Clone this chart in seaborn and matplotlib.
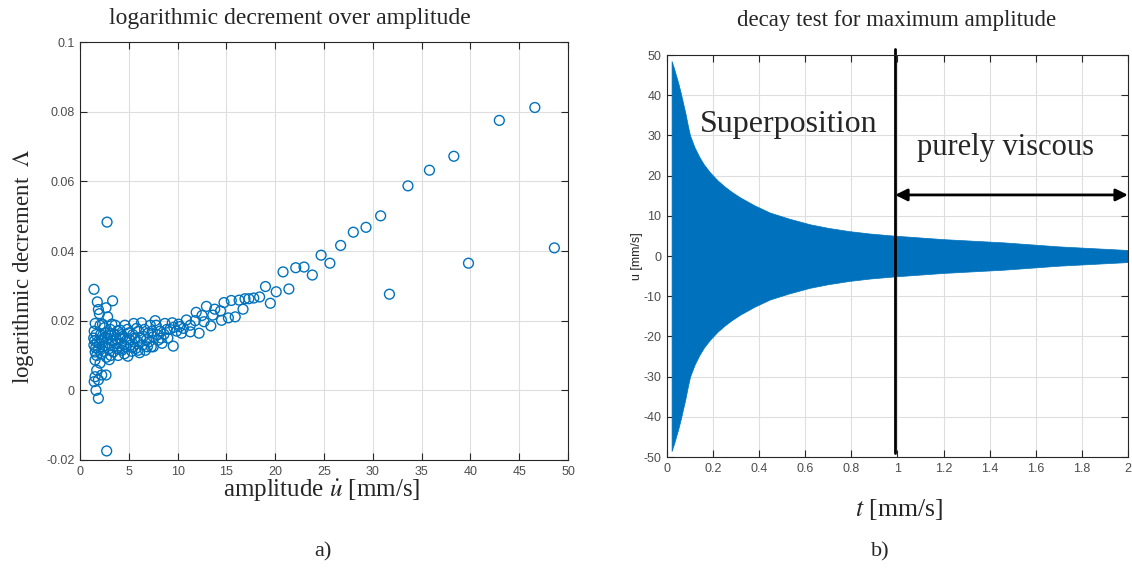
import matplotlib
matplotlib.use("Agg")
import matplotlib.pyplot as plt
import seaborn as sns
import pandas as pd

# Panel a) logarithmic decrement over amplitude (read off the picture)
amp = [1.43, 1.77, 1.88, 1.98, 1.55, 2.05, 1.45, 1.65, 1.40, 1.50, 1.75, 1.42, 1.60, 1.90, 1.55,
       1.70, 1.54, 2.05, 1.71, 1.54, 2.22, 1.88, 1.45, 1.64, 1.88, 2.10, 2.20, 2.00, 2.30, 2.15,
       2.73, 2.77, 3.34, 2.66, 2.83, 2.66, 2.50, 2.60, 2.80, 2.90, 2.55, 3.00, 3.10, 3.20, 3.30,
       3.40, 2.70, 3.00, 3.50, 3.60, 3.70, 3.80, 3.90, 4.10, 4.20, 4.30, 4.40, 4.60, 4.70, 4.80,
       4.90, 5.00, 5.20, 5.30, 5.50, 5.60, 5.70, 5.90, 6.00, 6.10, 6.30, 6.40, 6.50, 6.70, 6.80,
       7.00, 7.20, 7.30, 7.50, 7.50, 7.70, 7.80, 8.00, 8.20, 8.40, 8.60, 8.70, 9.00, 9.20, 9.45,
       9.55, 9.60, 10.1, 10.4, 10.6, 10.9, 11.3, 11.3, 11.8, 11.9, 12.2, 12.5, 12.7, 12.95, 13.4,
       13.6, 13.8, 14.4, 14.5, 14.75, 15.2, 15.5, 15.9, 16.3, 16.7, 16.9, 17.3, 17.8, 18.4, 19.0,
       19.5, 20.1, 20.8, 21.4, 22.1, 22.95, 23.8, 24.7, 25.6, 26.7, 28.0, 29.3, 30.8, 31.7, 33.6,
       35.8, 38.3, 39.8, 42.96, 46.6, 48.6,
       2.30, 2.40, 2.45, 2.90, 3.15, 3.25, 3.55, 3.65, 3.85, 4.00, 4.05, 4.25, 4.50, 4.55, 4.85,
       5.10, 5.40, 5.45, 5.80, 5.95, 6.20, 6.60, 6.90, 7.10, 7.40, 7.90, 8.30, 8.90, 9.90, 10.2]
dec = [0.0290, 0.0254, 0.0232, 0.0220, 0.0192, 0.0187, 0.0170, 0.0160, 0.0150, 0.0143, 0.0138,
       0.0130, 0.0122, 0.0118, 0.0110, 0.0100, 0.0087, 0.0078, 0.0058, 0.0039, 0.0044, 0.0030,
       0.0025, 0.0000, -0.0023, 0.0160, 0.0145, 0.0135, 0.0125, 0.0105,
       -0.0174, 0.0483, 0.0257, 0.0237, 0.0211, 0.0044, 0.0180, 0.0165, 0.0150, 0.0135, 0.0128,
       0.0120, 0.0175, 0.0158, 0.0142, 0.0110, 0.0095, 0.0088, 0.0128, 0.0187, 0.0148, 0.0120,
       0.0100, 0.0173, 0.0135, 0.0115, 0.0155, 0.0187, 0.0125, 0.0145, 0.0098, 0.0165, 0.0130,
       0.0112, 0.0192, 0.0150, 0.0120, 0.0140, 0.0170, 0.0108, 0.0194, 0.0130, 0.0155, 0.0115,
       0.0145, 0.0165, 0.0187, 0.0125, 0.0154, 0.0125, 0.0200, 0.0187, 0.0144, 0.0170, 0.0135,
       0.0161, 0.0192, 0.0150, 0.0175, 0.0194, 0.0127, 0.0181, 0.0190, 0.0164, 0.0178, 0.0202,
       0.0187, 0.0168, 0.0200, 0.0224, 0.0164, 0.0215, 0.0197, 0.0241, 0.0185, 0.0216, 0.0233,
       0.0228, 0.0201, 0.0252, 0.0208, 0.0258, 0.0211, 0.0259, 0.0233, 0.0263, 0.0263, 0.0265,
       0.0268, 0.0298, 0.0250, 0.0283, 0.0340, 0.0291, 0.0352, 0.0354, 0.0331, 0.0388, 0.0365,
       0.0416, 0.0454, 0.0468, 0.0501, 0.0276, 0.0587, 0.0632, 0.0672, 0.0365, 0.0775, 0.0812,
       0.0409,
       0.0190, 0.0112, 0.0150, 0.0160, 0.0100, 0.0190, 0.0160, 0.0135, 0.0170, 0.0118, 0.0150,
       0.0160, 0.0130, 0.0105, 0.0175, 0.0145, 0.0160, 0.0125, 0.0178, 0.0115, 0.0150, 0.0175,
       0.0125, 0.0140, 0.0170, 0.0160, 0.0150, 0.0175, 0.0170, 0.0183]

# Panel b) envelope of the decay signal
t_env = [0.02, 0.03, 0.04, 0.05, 0.06, 0.07, 0.08, 0.09, 0.10, 0.12, 0.14, 0.16, 0.187, 0.22,
         0.25, 0.28, 0.317, 0.38, 0.447, 0.53, 0.62, 0.70, 0.79, 0.88, 0.98, 1.20, 1.46, 1.70, 2.00]
u_env = [48.5, 46.8, 44.8, 42.8, 40.5, 38.0, 35.5, 32.6, 30.0, 27.0, 24.7, 22.8, 20.8, 18.8,
         17.3, 16.0, 14.6, 12.6, 10.8, 9.3, 7.9, 7.0, 6.2, 5.6, 5.1, 4.2, 3.4, 2.4, 1.5]

x_ticks_a = [0, 5, 10, 15, 20, 25, 30, 35, 40, 45, 50]
y_ticks_a = [-0.02, 0, 0.02, 0.04, 0.06, 0.08, 0.1]
y_labels_a = ["-0.02", "0", "0.02", "0.04", "0.06", "0.08", "0.1"]
x_ticks_b = [0, 0.2, 0.4, 0.6, 0.8, 1, 1.2, 1.4, 1.6, 1.8, 2]
x_labels_b = ["0", "0.2", "0.4", "0.6", "0.8", "1", "1.2", "1.4", "1.6", "1.8", "2"]
y_ticks_b = [-50, -40, -30, -20, -10, 0, 10, 20, 30, 40, 50]

blue = "#0072BD"
serif = "Liberation Serif"
tick_col = "#4d4d4d"

sns.set_theme(style="whitegrid")
plt.rcParams["font.family"] = ["Liberation Sans", "DejaVu Sans"]
plt.rcParams["mathtext.fontset"] = "stix"
plt.rcParams["axes.unicode_minus"] = False

fig = plt.figure(figsize=(11.32, 5.71), dpi=100)
ax1 = fig.add_axes([0.0707, 0.1944, 0.4311, 0.732])
ax2 = fig.add_axes([0.5892, 0.1996, 0.4072, 0.704])


def matlab_style(ax):
    ax.set_facecolor("white")
    ax.grid(True, color="#dedede", linewidth=0.8)
    for s in ax.spines.values():
        s.set_visible(True)
        s.set_color("#262626")
        s.set_linewidth(0.8)
    ax.tick_params(direction="in", length=5, width=0.8, color="#262626",
                   top=True, right=True, bottom=True, left=True,
                   labelsize=9, labelcolor=tick_col, pad=4)


# a)
df = pd.DataFrame({"amp": amp, "dec": dec})
sns.scatterplot(data=df, x="amp", y="dec", ax=ax1, marker="o", s=50,
                facecolors="none", edgecolor=blue, linewidth=1.0)
ax1.set_xlim(0, 50)
ax1.set_ylim(-0.02, 0.1)
ax1.set_xticks(x_ticks_a)
ax1.set_xticklabels([str(v) for v in x_ticks_a])
ax1.set_yticks(y_ticks_a)
ax1.set_yticklabels(y_labels_a)
matlab_style(ax1)
ax1.set_xlabel("")
ax1.set_ylabel("")

# b)
ax2.fill_between(t_env, [-v for v in u_env], u_env, color=blue, linewidth=0.5, edgecolor=blue)
ax2.set_xlim(0, 2)
ax2.set_ylim(-50, 50)
ax2.set_xticks(x_ticks_b)
ax2.set_xticklabels(x_labels_b)
ax2.set_yticks(y_ticks_b)
matlab_style(ax2)
ax2.set_ylabel("u [mm/s]", fontsize=9, color="#262626", labelpad=0)

ax2.plot([0.99, 0.99], [-49, 51.5], color="black", linewidth=2, clip_on=False)
ax2.annotate("", xy=(2.0, 15.2), xytext=(0.99, 15.2),
             arrowprops=dict(arrowstyle="<|-|>", color="black", lw=2, mutation_scale=18,
                             shrinkA=0, shrinkB=0))
ax2.text(0.53, 32.8, "Superposition", family=serif, fontsize=23, ha="center", va="center")
ax2.text(1.47, 26.9, "purely viscous", family=serif, fontsize=22, ha="center", va="center")


def ftext(x, y, s, va="baseline", **kw):
    fig.text(x / 1132, 1 - y / 571, s, family=serif, ha="center", va=va, **kw)


ftext(290, 24, "logarithmic decrement over amplitude", fontsize=17)
ftext(897, 26, "decay test for maximum amplitude", fontsize=16.5)
ftext(322, 497, r"amplitude $\dot{u}$ [mm/s]", fontsize=18)
ftext(899, 516, r"$t$ [mm/s]", fontsize=18.5)
ftext(24, 266, r"logarithmic decrement  $\mathit{\Lambda}$", va="center", fontsize=16.5, rotation=90)
ftext(323, 556, "a)", fontsize=16)
ftext(880, 556, "b)", fontsize=16)

fig.savefig("out.png", dpi=100)
